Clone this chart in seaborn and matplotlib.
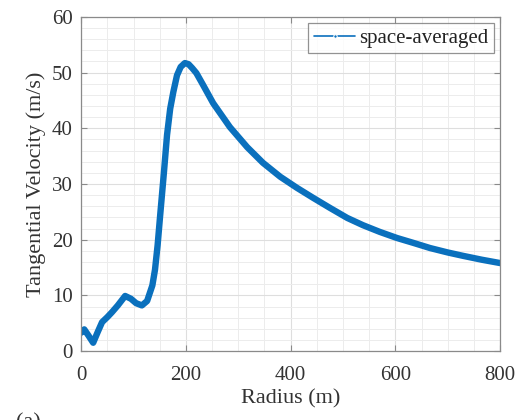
import matplotlib
matplotlib.use("Agg")
import matplotlib.pyplot as plt
from matplotlib.ticker import MultipleLocator
import seaborn as sns
import pandas as pd

radius = [0, 6, 14, 23, 32, 40, 50, 59, 70, 84, 95, 105, 116, 126, 136, 141,
          146, 151, 158, 164, 170, 176, 183, 190, 198, 205, 212, 220, 232, 252,
          284, 317, 347, 380, 412, 443, 475, 508, 538, 570, 603, 635, 666, 700,
          729, 765, 800]
velocity = [3.3, 3.9, 2.8, 1.5, 3.5, 5.2, 6.1, 7.0, 8.2, 9.9, 9.4, 8.6, 8.2, 9.0,
            11.8, 14.6, 19.0, 24.5, 32.0, 38.8, 43.5, 46.5, 49.5, 51.0, 51.7,
            51.5, 50.8, 49.9, 47.9, 44.5, 40.2, 36.6, 33.8, 31.3, 29.3, 27.5,
            25.7, 23.9, 22.6, 21.4, 20.3, 19.4, 18.5, 17.7, 17.1, 16.4, 15.8]
series_name = "space-averaged"
x_ticks = [0, 200, 400, 600, 800]
y_ticks = [0, 10, 20, 30, 40, 50, 60]

df = pd.DataFrame({"Radius": radius, "Velocity": velocity})

sns.set_theme(style="white")
plt.rcParams["font.family"] = ["Liberation Serif", "DejaVu Serif"]
plt.rcParams["mathtext.fontset"] = "stix"

fig = plt.figure(figsize=(5.2, 4.2), dpi=100)
ax = fig.add_axes([0.156, 0.164, 0.806, 0.796])

color = "#0a70bd"
sns.lineplot(data=df, x="Radius", y="Velocity", ax=ax, color=color,
             linewidth=4.6, label=series_name, solid_capstyle="round",
             solid_joinstyle="round")

ax.set_xlim(0, 800)
ax.set_ylim(0, 60)
ax.set_xticks(x_ticks)
ax.set_yticks(y_ticks)
ax.xaxis.set_minor_locator(MultipleLocator(50))
ax.yaxis.set_minor_locator(MultipleLocator(2))
ax.grid(True, which="major", color="#dedede", linewidth=0.8)
ax.grid(True, which="minor", color="#ececec", linewidth=0.7)
ax.set_axisbelow(True)

for s in ax.spines.values():
    s.set_visible(True)
    s.set_color("#8a8a8a")
    s.set_linewidth(0.9)

ax.tick_params(axis="both", which="major", direction="in", length=4,
               width=0.8, color="#8a8a8a", labelsize=15, labelcolor="#333333",
               top=True, right=True, bottom=True, left=True, pad=6)
ax.tick_params(axis="x", which="major", pad=11)
ax.tick_params(axis="both", which="minor", length=0)

ax.set_xlabel("Radius (m)", fontsize=16, color="#333333", labelpad=3)
ax.set_ylabel("Tangential Velocity (m/s)", fontsize=16, color="#333333", labelpad=4)

leg = ax.legend(loc="upper right", fontsize=15, frameon=True, fancybox=False,
                borderaxespad=0.3, handlelength=2.0, handletextpad=0.2,
                borderpad=0.25, edgecolor="#777777")
leg.get_frame().set_linewidth(0.9)
for ln in leg.get_lines():
    ln.set_linewidth(1.2)
    ln.set_marker(".")
    ln.set_markersize(5)
for t in leg.get_texts():
    t.set_color("#222222")

fig.text(0.03, 1 - 413 / 420, "(a)", fontsize=16, va="top", ha="left",
         color="#333333")

fig.savefig("out.png", dpi=100)
